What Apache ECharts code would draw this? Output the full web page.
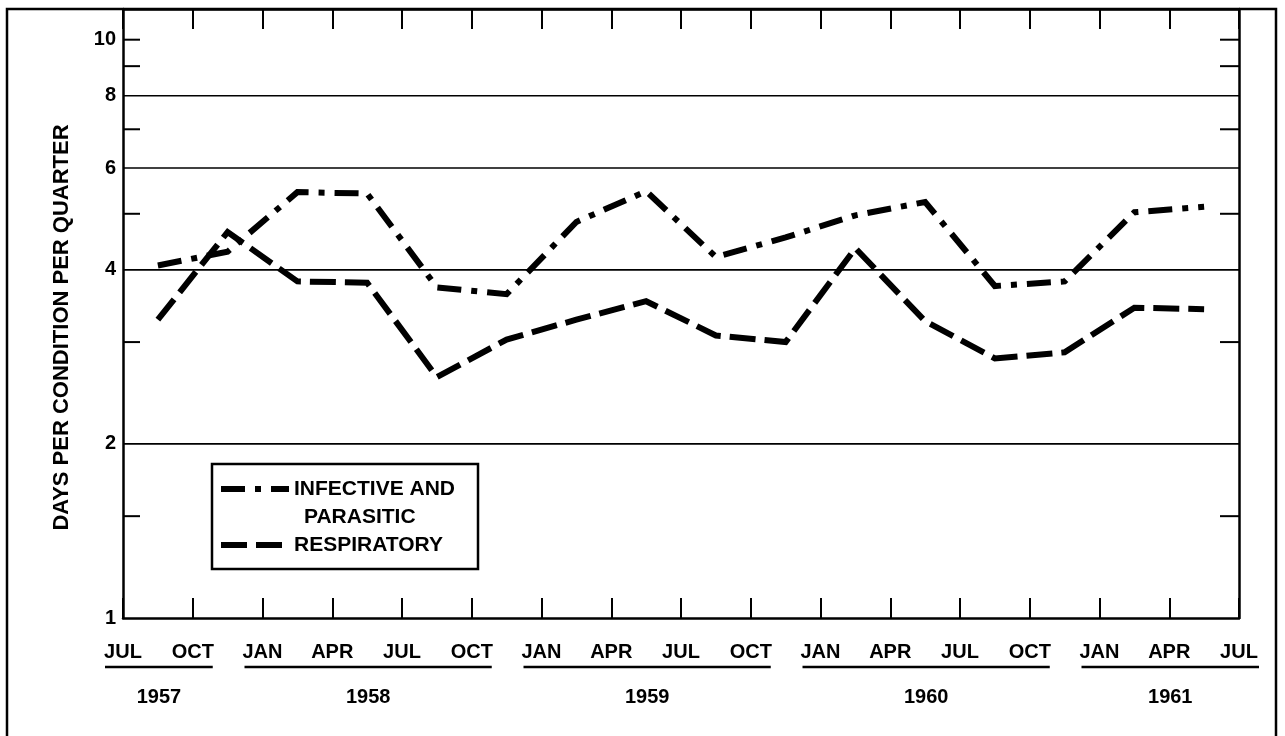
<!DOCTYPE html>
<html><head><meta charset="utf-8">
<script src="https://cdn.jsdelivr.net/npm/echarts@6/dist/echarts.min.js"></script>
<style>html,body{margin:0;padding:0;background:#fff}#c{width:1285px;height:736px}</style>
</head><body><div id="c"></div>
<script>
// ---- data ----
const periods = ['1957 Q3','1957 Q4','1958 Q1','1958 Q2','1958 Q3','1958 Q4','1959 Q1','1959 Q2',
                 '1959 Q3','1959 Q4','1960 Q1','1960 Q2','1960 Q3','1960 Q4','1961 Q1','1961 Q2'];
const infective   = [4.07, 4.30, 5.45, 5.42, 3.73, 3.63, 4.84, 5.47, 4.21, 4.55, 4.97, 5.24, 3.75, 3.82, 5.03, 5.14];
const respiratory = [3.28, 4.65, 3.82, 3.80, 2.61, 3.03, 3.28, 3.53, 3.08, 3.00, 4.36, 3.26, 2.81, 2.88, 3.44, 3.42];
const quarterLabels = ['JUL','OCT','JAN','APR','JUL','OCT','JAN','APR','JUL','OCT','JAN','APR','JUL','OCT','JAN','APR','JUL'];
const years = ['1957','1958','1959','1960','1961'];
const yearFirstLabel = [0, 2, 6, 10, 14];
const yearLastLabel  = [1, 5, 9, 13, 16];
const yLabelValues = [1, 2, 4, 6, 8, 10];
const yMinorTicks  = [1.5, 3, 5, 7, 9, 10];
const yGridValues  = [2, 4, 6, 8];
const yMin = 1, yMax = 11.3;
const seriesNames = ['INFECTIVE AND PARASITIC', 'RESPIRATORY'];

// ---- styling ----
const FONT = "'Liberation Sans', Arial, sans-serif";
const BLACK = '#000';

const chart = echarts.init(document.getElementById('c'), null, {renderer: 'canvas'});

function gridLineItem(params, api) {
  const cs = params.coordSys;
  const y = api.coord([0, api.value(1)])[1];
  return {type: 'line', shape: {x1: cs.x, y1: y, x2: cs.x + cs.width, y2: y},
          style: {stroke: BLACK, lineWidth: 1.6}};
}
function tickItem(params, api) {
  const cs = params.coordSys;
  const y = api.coord([0, api.value(1)])[1];
  return {type: 'group', children: [
    {type: 'line', shape: {x1: cs.x, y1: y, x2: cs.x + 17, y2: y}, style: {stroke: BLACK, lineWidth: 2}},
    {type: 'line', shape: {x1: cs.x + cs.width - 19, y1: y, x2: cs.x + cs.width, y2: y}, style: {stroke: BLACK, lineWidth: 2}}
  ]};
}
function labelItem(params, api) {
  const cs = params.coordSys;
  const v = api.value(1);
  const y = api.coord([0, v])[1];
  return {type: 'text', x: cs.x - 7, y: y,
          style: {text: String(v), align: 'right', verticalAlign: 'middle', textAlign: 'right', textVerticalAlign: 'middle',
                   fontSize: 20, fontWeight: 'bold', fontFamily: FONT, fill: BLACK}};
}

const option = {
  animation: false,
  backgroundColor: '#fff',
  grid: {left: 123, right: 46, top: 9, bottom: 118, containLabel: false},
  xAxis: [
    {type: 'category', data: periods, boundaryGap: true, position: 'bottom',
     axisLine: {show: true, lineStyle: {color: BLACK, width: 2.5}},
     axisTick: {show: true, inside: true, length: 20, interval: 0, lineStyle: {color: BLACK, width: 2}},
     axisLabel: {show: false}, splitLine: {show: false}},
    {type: 'value', min: 0, max: 16, interval: 1, position: 'bottom',
     axisLine: {show: false}, axisTick: {show: false}, splitLine: {show: false},
     axisLabel: {show: true, margin: 24, color: BLACK, fontSize: 20, fontWeight: 'bold', fontFamily: FONT,
                 showMinLabel: true, showMaxLabel: true, hideOverlap: false,
                 formatter: v => quarterLabels[v] || ''}},
    {type: 'category', data: periods, boundaryGap: true, position: 'top',
     axisLine: {show: true, lineStyle: {color: BLACK, width: 2.5}},
     axisTick: {show: true, inside: true, length: 20, interval: 0, lineStyle: {color: BLACK, width: 2}},
     axisLabel: {show: false}, splitLine: {show: false}}
  ],
  yAxis: [
    {type: 'log', logBase: 10, min: yMin, max: yMax, position: 'left',
     axisLine: {show: true, lineStyle: {color: BLACK, width: 2.5}},
     axisTick: {show: false}, axisLabel: {show: false}, splitLine: {show: false}, minorTick: {show: false},
     name: 'DAYS PER CONDITION PER QUARTER', nameLocation: 'middle', nameGap: 50, nameRotate: 90,
     nameTextStyle: {color: BLACK, fontSize: 22, fontWeight: 'bold', fontFamily: FONT, padding: [0, 28, 0, 0]}},
    {type: 'log', logBase: 10, min: yMin, max: yMax, position: 'right',
     axisLine: {show: true, lineStyle: {color: BLACK, width: 2.5}},
     axisTick: {show: false}, axisLabel: {show: false}, splitLine: {show: false}}
  ],
  legend: {
    orient: 'vertical', left: 212, top: 464,
    itemWidth: 68, itemHeight: 10, itemGap: 0,
    padding: [-17, 23, 10, 6],
    borderColor: BLACK, borderWidth: 2.5, borderRadius: 0, backgroundColor: '#fff',
    selectedMode: false,
    lineStyle: {width: 6, color: BLACK},
    itemStyle: {color: 'rgba(0,0,0,0)', opacity: 0, borderWidth: 0},
    data: [{name: seriesNames[0], textStyle: {padding: [28, 0, 0, 0]}}, {name: seriesNames[1]}],
    formatter: name => name === seriesNames[0] ? 'INFECTIVE AND\n{p|PARASITIC}' : name,
    textStyle: {color: BLACK, fontSize: 21, fontWeight: 'bold', fontFamily: FONT, lineHeight: 28,
                rich: {p: {color: BLACK, fontSize: 21, fontWeight: 'bold', fontFamily: FONT, lineHeight: 28, padding: [0, 0, 0, 10]}}}
  },
  series: [
    {name: seriesNames[0], type: 'line', xAxisIndex: 0, yAxisIndex: 0, data: infective,
     symbol: 'none', z: 5, itemStyle: {color: BLACK},
     lineStyle: {color: BLACK, width: 6, type: [24, 10, 6, 10], cap: 'butt', join: 'miter'}},
    {name: seriesNames[1], type: 'line', xAxisIndex: 0, yAxisIndex: 0, data: respiratory,
     symbol: 'none', z: 5, itemStyle: {color: BLACK},
     lineStyle: {color: BLACK, width: 6, type: [26, 9], cap: 'butt', join: 'miter'}},
    {name: 'gridlines', type: 'custom', xAxisIndex: 0, yAxisIndex: 0, silent: true, clip: false, z: 1,
     encode: {x: 0, y: 1}, data: yGridValues.map(v => [0, v]), renderItem: gridLineItem},
    {name: 'yticks', type: 'custom', xAxisIndex: 0, yAxisIndex: 0, silent: true, clip: false, z: 2,
     encode: {x: 0, y: 1}, data: yMinorTicks.map(v => [0, v]), renderItem: tickItem},
    {name: 'ylabels', type: 'custom', xAxisIndex: 0, yAxisIndex: 0, silent: true, clip: false, z: 2,
     encode: {x: 0, y: 1}, data: yLabelValues.map(v => [0, v]), renderItem: labelItem}
  ]
};
chart.setOption(option);

// decorations: outer frame, year underlines and year labels placed via the label axis
const px = v => chart.convertToPixel({xAxisIndex: 1}, v);
const ulY = 667, yrY = 697;
const g = [{type: 'polyline', silent: true, shape: {points: [[7, 745], [7, 9], [1276, 9], [1276, 745]]},
            style: {stroke: BLACK, lineWidth: 2.5, fill: null}}];
years.forEach((yr, i) => {
  const x0 = px(yearFirstLabel[i]) - 18, x1 = px(yearLastLabel[i]) + 20;
  g.push({type: 'line', silent: true, shape: {x1: x0, y1: ulY, x2: x1, y2: ulY}, style: {stroke: BLACK, lineWidth: 2.5}});
  g.push({type: 'text', silent: true, x: (x0 + x1) / 2, y: yrY,
          style: {text: yr, align: 'center', verticalAlign: 'middle', textAlign: 'center', textVerticalAlign: 'middle',
                  fontSize: 20, fontWeight: 'bold', fontFamily: FONT, fill: BLACK}});
});
chart.setOption({graphic: g});
</script>
</body></html>
